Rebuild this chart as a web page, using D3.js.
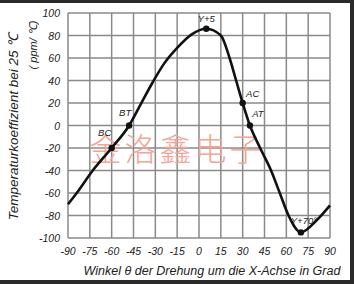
<!DOCTYPE html>
<html><head><meta charset="utf-8">
<script src="https://cdn.jsdelivr.net/npm/d3@7/dist/d3.min.js"></script>
<style>body{margin:0;background:#fff;}svg{display:block;}</style>
</head><body>
<svg id="c" width="354" height="284"></svg>
<script>
const xTicks = [-90,-75,-60,-45,-30,-15,0,15,30,45,60,75,90];
const yTicks = [100,80,60,40,20,0,-20,-40,-60,-80,-100];
const curveAngle = [-90,-84,-73,-60,-48,-40,-32,-24,-15,-5,5,15,21,25.5,30,35,42,49.5,55.5,61.5,70,81,90];
const curveValue = [-70,-60,-40,-20,0,19,38,55,69,81,86,80,60,40,20,0,-20,-40,-60,-80,-95,-84,-71];
const markerNames = ["BC","BT","Y+5","AC","AT","Y+70°"];
const markerAngle = [-60,-48,5,30,35,70];
const markerValue = [-20,0,86,20,0,-95];

const svg = d3.select("#c");
const x = d3.scaleLinear().domain([-90,90]).range([68,330]);
const y = d3.scaleLinear().domain([-100,100]).range([238,13]);

// frame
svg.append("rect").attr("x",0).attr("y",0).attr("width",354).attr("height",3).attr("fill","#2a2a2a");
svg.append("rect").attr("x",0).attr("y",280).attr("width",354).attr("height",4).attr("fill","#2a2a2a");
svg.append("rect").attr("x",350).attr("y",0).attr("width",4).attr("height",284).attr("fill","#2a2a2a");

// grid
const g = svg.append("g");
g.selectAll("line.v").data(xTicks).join("line")
  .attr("x1",d=>x(d)).attr("x2",d=>x(d)).attr("y1",y(100)).attr("y2",y(-100))
  .attr("stroke","#8a8a8a").attr("stroke-width",1.5);
g.selectAll("line.h").data(yTicks).join("line")
  .attr("y1",d=>y(d)).attr("y2",d=>y(d)).attr("x1",x(-90)).attr("x2",x(90))
  .attr("stroke","#8a8a8a").attr("stroke-width",1.5);

// watermark
svg.append("text").attr("x",177).attr("y",161).attr("text-anchor","middle")
  .attr("font-family","Noto Sans CJK SC").attr("font-size",32).attr("font-weight",300)
  .attr("letter-spacing",3).attr("fill","#f4a595").text("金洛鑫电子");

// axes tick labels
svg.selectAll("text.yt").data(yTicks).join("text")
  .attr("x",60).attr("y",d=>y(d)+4).attr("text-anchor","end")
  .attr("font-family","Liberation Sans, Arial, sans-serif").attr("font-style","italic")
  .attr("font-size",10.5).attr("fill","#222").text(d=>d);
svg.selectAll("text.xt").data(xTicks).join("text")
  .attr("x",d=>x(d)).attr("y",255).attr("text-anchor","middle")
  .attr("font-family","Liberation Sans, Arial, sans-serif").attr("font-style","italic")
  .attr("font-size",10.5).attr("fill","#222").text(d=>d);

// titles
svg.append("text").attr("transform","translate(18,127) rotate(-90)").attr("text-anchor","middle")
  .attr("font-family","Liberation Sans, Arial, sans-serif").attr("font-style","italic")
  .attr("font-size",13.5).attr("fill","#222").text("Temperaturkoeffizient bei 25 ℃");
svg.append("text").attr("transform","translate(37,45) rotate(-90)").attr("text-anchor","middle")
  .attr("font-family","Liberation Sans, Arial, sans-serif").attr("font-style","italic")
  .attr("font-size",11).attr("fill","#222").text("( ppm/ ℃)");
svg.append("text").attr("x",212).attr("y",275).attr("text-anchor","middle")
  .attr("font-family","Liberation Sans, Arial, sans-serif").attr("font-style","italic")
  .attr("font-size",12.5).attr("fill","#222").text("Winkel θ der Drehung um die X-Achse in Grad");

// curve
const pts = curveAngle.map((a,i)=>[a,curveValue[i]]);
svg.append("path").datum(pts)
  .attr("d",d3.line().x(d=>x(d[0])).y(d=>y(d[1])).curve(d3.curveMonotoneX))
  .attr("fill","none").attr("stroke","#111").attr("stroke-width",2.6);

// markers
const mk = markerNames.map((n,i)=>({n,a:markerAngle[i],v:markerValue[i]}));
svg.selectAll("circle.m").data(mk).join("circle")
  .attr("cx",d=>x(d.a)).attr("cy",d=>y(d.v)).attr("r",3.2).attr("fill","#111");
const off = {"BC":[-7,-12],"BT":[-4,-10],"Y+5":[0,-7],"AC":[10,-6],"AT":[8,-9],"Y+70°":[3,-8]};
svg.selectAll("text.m").data(mk).join("text")
  .attr("x",d=>x(d.a)+off[d.n][0]).attr("y",d=>y(d.v)+off[d.n][1])
  .attr("text-anchor","middle")
  .attr("font-family","Liberation Sans, Arial, sans-serif").attr("font-style","italic")
  .attr("font-size",9.5).attr("fill","#222").text(d=>d.n);
</script>
</body></html>
